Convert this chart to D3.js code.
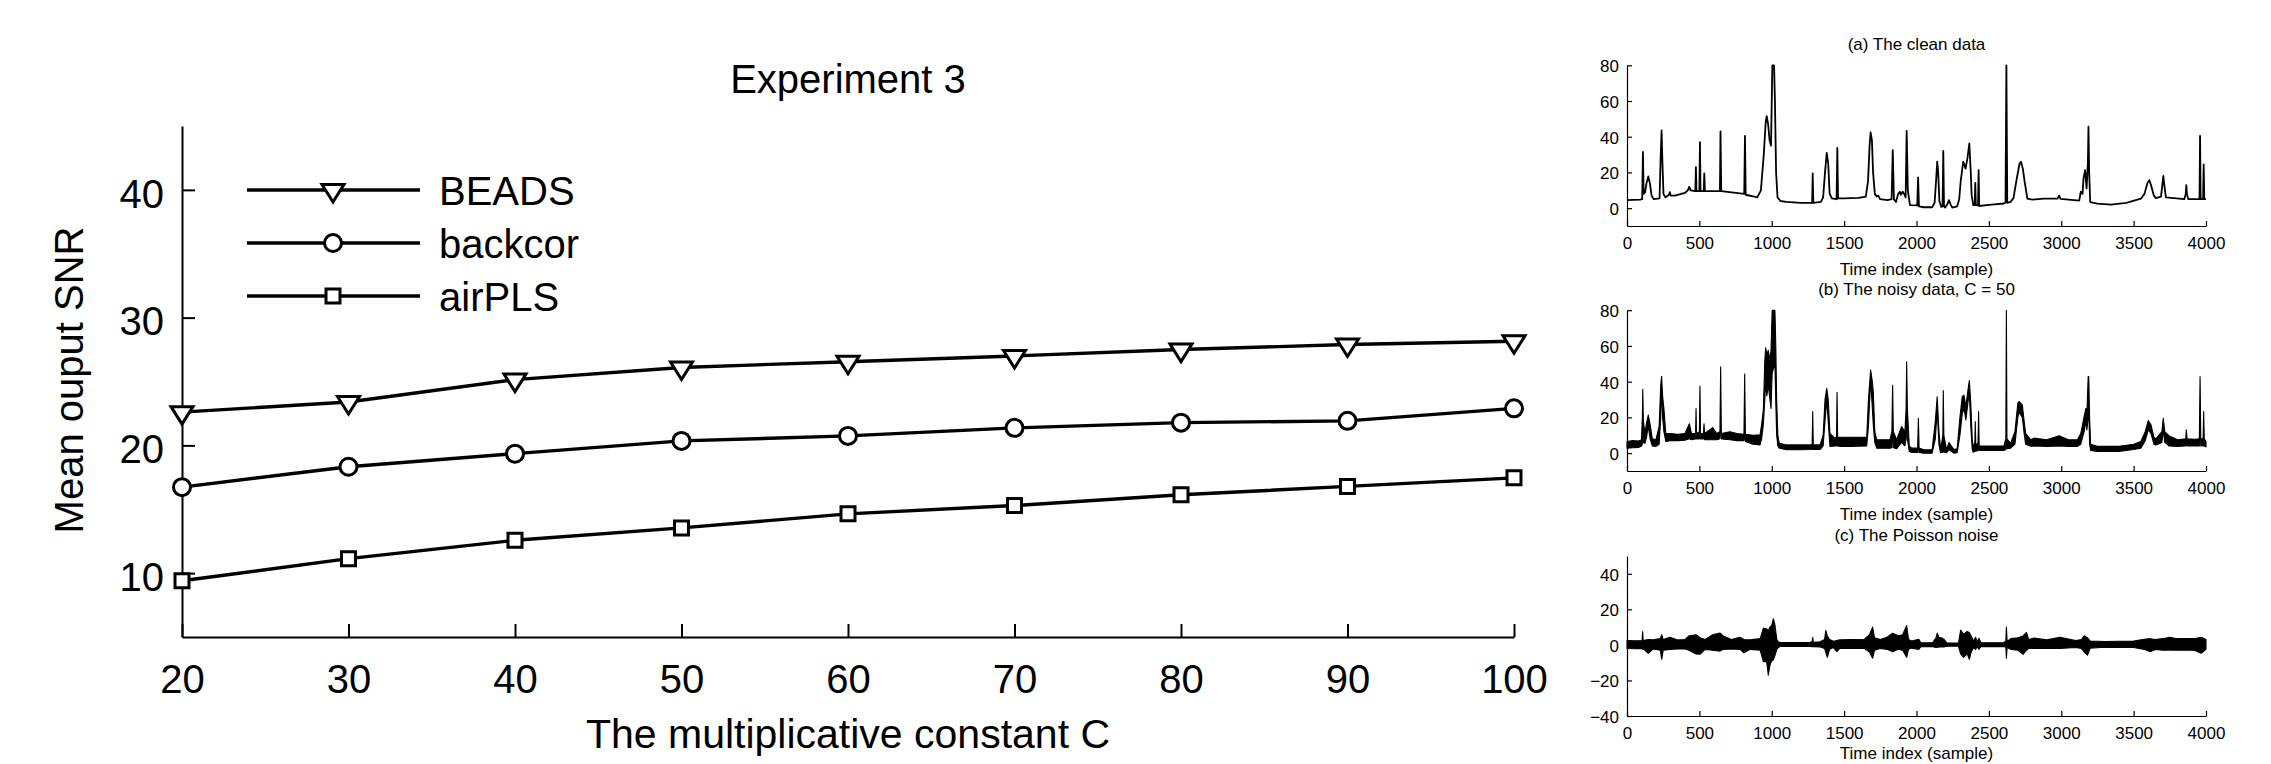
<!DOCTYPE html>
<html>
<head>
<meta charset="utf-8">
<script src="https://cdn.jsdelivr.net/npm/d3@7"></script>
<style>
body { margin: 0; background: #fff; }
svg { display: block; font-family: "Liberation Sans", Arial, Helvetica, sans-serif; }
</style>
</head>
<body>
<svg id="drawing_region"></svg>
<script>
// main chart data (Experiment 3)
const cValues = [20, 30, 40, 50, 60, 70, 80, 90, 100];
const beads   = [22.6, 23.4, 25.15, 26.1, 26.55, 27.0, 27.5, 27.9, 28.15];
const backcor = [16.73, 18.33, 19.35, 20.35, 20.74, 21.37, 21.78, 21.92, 22.9];
const airpls  = [9.4, 11.13, 12.57, 13.54, 14.64, 15.29, 16.13, 16.79, 17.46];
const seriesNames = ['BEADS', 'backcor', 'airPLS'];
const snrTicks = [10, 20, 30, 40];

// right panels: tick labels
const sampleTicks = [0, 500, 1000, 1500, 2000, 2500, 3000, 3500, 4000];
const dataTicks = [0, 20, 40, 60, 80];
const noiseTicks = [-40, -20, 0, 20, 40];
const panelTitles = ['(a) The clean data', '(b) The noisy data, C = 50', '(c) The Poisson noise'];

// (a) clean data, [sample, value]
const cleanSignal = [
  [0,4.5],[90,4.8],[105,5],[110,31.5],[115,8],[125,9],[135,14],[147,17.8],[158,14],[170,7],[185,5],
  [225,5.5],[233,30],[239,43.5],[245,25],[252,8],[265,6],[290,7.5],[296,9],[302,7],[330,7],[400,8.5],
  [420,10],[430,12],[440,10],[472,9.5],[476,23],[480,9.5],[500,9.5],[504,37],[508,9.5],[530,9.5],
  [534,19.4],[538,9.5],[642,9.5],[646,43],[651,9.5],[810,8],[815,40.4],[820,7.5],[880,6.5],[900,6],
  [925,10],[945,30],[958,48],[965,51.5],[975,47],[985,38],[995,35],[1000,60],[1004,80],[1016,80],
  [1022,60],[1030,20],[1040,6],[1060,4],[1100,3.5],[1200,3],[1279,3],[1283,19.4],[1287,3],[1340,3.5],
  [1355,6],[1368,20],[1380,31],[1390,25],[1400,8],[1415,5.5],[1448,5],[1453,33.8],[1458,5.5],[1500,5.5],
  [1600,5.8],[1650,6.5],[1665,15],[1676,35],[1683,42.4],[1692,38],[1700,20],[1712,8],[1725,6.5],[1736,7],
  [1748,5],[1800,4.5],[1828,5],[1836,32.5],[1844,5],[1858,3.4],[1874,8],[1885,9.2],[1892,7.5],[1905,9.2],
  [1914,8],[1925,6],[1932,43.3],[1940,10],[1955,1.7],[2005,1.5],[2011,17.2],[2017,1],[2050,0.5],[2108,0.5],
  [2125,3],[2135,15],[2143,26],[2150,20],[2158,4],[2171,0.7],[2180,1],[2185,32],[2190,1],[2198,0.3],
  [2212,2],[2224,4.5],[2236,2],[2247,0.3],[2281,1],[2295,5],[2305,14.8],[2323,26],[2339,22.2],[2352,28],
  [2365,36.2],[2375,20],[2381,7.3],[2392,1.7],[2402,1.7],[2406,14.2],[2410,1.7],[2425,1.5],[2429,21.3],
  [2433,1.2],[2500,1.8],[2604,2.6],[2615,3],[2621,80],[2627,3],[2650,3.5],[2670,5.6],[2692,16.3],
  [2712,25],[2722,26],[2735,22],[2747,14.8],[2766,5.3],[2800,4.8],[2880,5.3],[2975,5.3],[2985,7],
  [2995,5.2],[3124,4.2],[3135,9.2],[3147,8],[3154,16.8],[3165,21.3],[3175,11],[3184,25],[3188,45.6],
  [3193,20],[3200,3.4],[3250,2.5],[3343,2],[3450,3],[3550,5.3],[3575,8],[3595,14],[3608,15.7],[3620,13],
  [3640,7],[3654,5.6],[3689,6.5],[3697,12],[3705,18],[3712,13],[3723,6],[3850,5],[3860,8],[3864,12.9],
  [3868,8],[3878,5],[3955,5],[3959,40.5],[3963,5],[3980,5],[3984,24.5],[3988,5],[4000,5]
];

// (b) noisy data, [sample, lower edge, upper edge] of the black trace
const noisyBand = [
  [0,2.8,6.5],[40,3,7],[80,3.2,6.8],[100,4,7.5],[106,5,20],[109,20,35.7],[113,6,18],[124,5.5,11],
  [135,9,17],[147,14.9,21.3],[160,8,16],[175,4,8],[200,3.8,7.5],[222,5,15],[233,20,38],[239,37,43],
  [246,20,32],[255,12,25],[268,6.5,11],[300,7,11],[350,7,10.5],[400,7.2,11],[431,8,16.4],[445,7.5,11],
  [474,8,11],[477,12,25],[480,8,11],[500,8,12],[504,14,37.6],[508,8,11],[528,8,11],[532,9,16.4],
  [536,7.5,11],[592,7.5,14.3],[620,7.5,11],[642,8,12],[647,20,48.3],[652,8,11],[711,7.5,12],[760,7,11],
  [808,7,10.5],[813,12,44.3],[818,6.5,10.5],[870,5,10],[919,4.6,10.2],[930,8,16],[942,16,24.2],
  [952,30,52],[958,40,59],[966,32,55],[976,38,57.6],[988,29.8,52],[995,25,57.6],[1003,45,80],
  [1022,50,80],[1028,28,60],[1034,10,29.8],[1042,4,10],[1052,2.8,5.5],[1103,1.9,4.6],[1200,1.9,4.6],
  [1279,2,4.6],[1283,8,23.3],[1287,2,4.6],[1334,2,4.6],[1355,4,10],[1368,18,30],[1380,29.8,36.3],
  [1390,18,30],[1402,3.8,11],[1440,4,8],[1448,4,10],[1451,14,34.1],[1455,4,9],[1472,3.8,8.9],
  [1550,3.8,8.9],[1656,4,9],[1668,15,30],[1683,40.9,46.5],[1695,25,40],[1702,15,33.5],[1712,6,12],
  [1725,2.8,7.5],[1817,2.8,7.5],[1830,3,12],[1835,20,38],[1840,3,12],[1863,2.5,7.5],[1897,6,14.9],
  [1920,4,12],[1928,8,25],[1932,30,51.1],[1937,8,25],[1950,1,4],[1966,0.4,2.8],[2008,0.4,2.8],
  [2013,6,19.5],[2018,0.4,2.8],[2051,0,1.9],[2108,0,1.9],[2130,8,18],[2143,24,31.6],[2155,5,12],
  [2166,0.3,2],[2182,0.5,10],[2185,18,35],[2189,0.5,10],[2208,0.3,2],[2224,2,5.9],[2258,0,2],
  [2281,0.3,2.5],[2300,10,20],[2316,22,31.6],[2328,25,32.5],[2341,18.6,26],[2355,28,35],[2365,34,40.6],
  [2375,15,28],[2385,2,8],[2392,0.5,3],[2403,1,6],[2406,8,17.7],[2410,1,4],[2425,1.5,6],[2429,10,23.3],
  [2433,1.5,4],[2443,1.5,4],[2604,1.5,4],[2617,2,8],[2621,50,80],[2625,2.5,8],[2650,2.8,5.5],
  [2680,5,12],[2700,20,28],[2708,23,28.9],[2731,20,27],[2745,10,17],[2754,5,11],[2789,3.8,7.5],
  [2812,4,8.4],[2900,3.8,7.5],[2985,4,9.7],[3050,3.8,7.5],[3112,3.8,7.5],[3135,5,11],[3158,12,20.5],
  [3170,18,25],[3177,13,22],[3186,20,42.8],[3190,25,42.8],[3196,5,20],[3203,1.5,5],[3250,1,3.8],
  [3400,1,3.8],[3500,2,5],[3550,2.8,6.5],[3580,7,12],[3601,13,18.2],[3620,11,15.8],[3640,5,9],
  [3654,4.5,8],[3695,6,12],[3705,13,19.5],[3715,6,12],[3746,4,9.6],[3804,3.8,7.5],[3860,4,8],
  [3864,7,13],[3869,4,8],[3919,4,7.8],[3954,4,8],[3959,20,42.8],[3964,4,8],[3980,4,8],[3984,10,23.3],
  [3988,4,8],[4000,3.5,6.5]
];

// (c) Poisson noise, [sample, lower edge, upper edge]
const poissonBand = [
  [0,-2,2.5],[60,-2.2,2.3],[104,-2,2.5],[108,-2.5,7.5],[112,-2.2,2.5],[147,-4.7,3],[180,-2.3,2.8],
  [230,-3,3.5],[240,-8.1,5.7],[250,-3,3],[297,-2.5,4.3],[350,-2.3,2.8],[400,-2.3,3],[428,-3,5.1],
  [477,-5.1,5.7],[504,-5.3,4],[540,-2.5,3],[592,-3,5.7],[643,-3.5,6.6],[666,-2.5,5],[720,-2.3,3],
  [781,-2.5,4.3],[808,-4.5,3],[850,-2.5,2.8],[920,-3,3.5],[942,-9.4,9.4],[965,-9.4,9],[976,-17,8],
  [988,-11.3,10],[1000,-9,11],[1011,-8.5,14.7],[1022,-6,11.3],[1035,-2.5,3],[1045,-1.5,1.8],
  [1057,-0.9,1.3],[1150,-0.9,1.3],[1264,-0.9,1.3],[1280,-1,2],[1283,-1,4.3],[1287,-1,1.5],
  [1334,-1.2,1.8],[1365,-2,3],[1373,-4,8.1],[1384,-7,5],[1400,-2.5,3],[1426,-1.5,2],[1450,-3.8,2.5],
  [1470,-2,2.8],[1550,-2,3],[1640,-2,3.2],[1675,-4,5.7],[1697,-7.5,10],[1710,-3,4],[1750,-2,3],
  [1796,-2.5,4.3],[1835,-3.8,6.6],[1874,-2.5,5.1],[1904,-3,5.7],[1932,-7,10.9],[1945,-2.5,3],
  [1966,-1.8,2.2],[2016,-2.5,3.2],[2030,-1,1.2],[2110,-1,1.2],[2135,-1.5,4],[2143,-1.5,6.6],
  [2155,-1.2,4.3],[2178,-1.2,3.8],[2189,-1.2,3.2],[2210,-0.8,1],[2290,-0.8,1],[2305,-5,8.3],
  [2325,-7,6],[2350,-5,7.5],[2365,-8.1,7],[2378,-4,5],[2395,-1.5,2],[2408,-2.5,4.3],[2420,-1,1.5],
  [2431,-2.5,3.8],[2445,-1,1.2],[2600,-1,1.2],[2617,-1.2,2],[2621,-7.5,10],[2626,-1.5,2],
  [2651,-2.5,3.5],[2700,-3,4],[2736,-5.3,5],[2760,-3,7],[2775,-2,3],[2812,-2,3.8],[2900,-1.9,2.8],
  [2990,-2,4.3],[3100,-1.5,2.5],[3140,-2,3],[3158,-4,5.1],[3181,-5.8,4],[3200,-1.8,2.2],
  [3300,-1.3,1.9],[3500,-1.5,2.2],[3573,-2.5,3.2],[3615,-3.8,3.5],[3650,-2.6,3],[3700,-3,3.5],
  [3750,-2.8,4.3],[3800,-3,3.5],[3850,-3,3.5],[3920,-3,3.5],[3966,-4.7,4.3],[4000,-2.5,3]
];

const W = 2271, H = 764;
const svg = d3.select('#drawing_region').attr('width', W).attr('height', H);

// ---------- main chart ----------
const m = { left: 182, right: 1514, top: 126, bottom: 637 };
const xscale = d3.scaleLinear().domain([20, 100]).range([m.left, m.right]);
const yscale = d3.scaleLinear().domain([5, 45]).range([m.bottom, m.top]);

const xaxis_group = svg.append('g')
    .attr('transform', `translate(0, ${m.bottom})`)
    .call(d3.axisBottom(xscale).tickValues(cValues).tickSizeInner(-13).tickSizeOuter(0).tickFormat(d3.format('d')));
xaxis_group.selectAll('text').attr('y', 56).attr('dy', null);

const yaxis_group = svg.append('g')
    .attr('transform', `translate(${m.left}, 0)`)
    .call(d3.axisLeft(yscale).tickValues(snrTicks).tickSizeInner(-13).tickSizeOuter(0).tickPadding(18));
yaxis_group.selectAll('text').attr('dy', '0.43em');

[xaxis_group, yaxis_group].forEach(g => {
    g.attr('font-family', null).attr('font-size', null);
    g.selectAll('path, line').attr('stroke', '#000').attr('stroke-width', 2);
    g.selectAll('text').style('font-size', '40px').attr('fill', '#000');
});

// marker shapes
const markerPath = {
    BEADS: 'M-11,-5.5L11,-5.5L0,12Z',
    airPLS: 'M-7,-7H7V7H-7Z'
};
function drawMarker(g, name, cx, cy) {
    if (name === 'backcor') {
        g.append('circle').attr('cx', cx).attr('cy', cy).attr('r', 8.5)
            .attr('fill', '#fff').attr('stroke', '#000').attr('stroke-width', 3);
    } else {
        g.append('path').attr('d', markerPath[name])
            .attr('transform', `translate(${cx},${cy})`)
            .attr('fill', '#fff').attr('stroke', '#000').attr('stroke-width', 3)
            .attr('stroke-linejoin', 'miter');
    }
}

const seriesValues = [beads, backcor, airpls];
const line = d3.line().x((d, i) => xscale(cValues[i])).y(d => yscale(d));
const chart = svg.append('g');
seriesValues.forEach((vals, k) => {
    chart.append('path').attr('d', line(vals))
        .attr('fill', 'none').attr('stroke', '#000').attr('stroke-width', 3.4);
    vals.forEach((v, i) => drawMarker(chart, seriesNames[k], xscale(cValues[i]), yscale(v)));
});

// legend
const legend = svg.append('g');
seriesNames.forEach((name, k) => {
    const ly = 190 + k * 53;
    legend.append('line').attr('x1', 247).attr('x2', 420).attr('y1', ly).attr('y2', ly)
        .attr('stroke', '#000').attr('stroke-width', 3.4);
    drawMarker(legend, name, 333, ly);
    legend.append('text').attr('x', 439).attr('y', ly).attr('dy', '0.38em')
        .style('font-size', '40px').text(name);
});

svg.append('text').attr('x', (m.left + m.right) / 2).attr('y', 93)
    .attr('text-anchor', 'middle').style('font-size', '40px').text('Experiment 3');
svg.append('text').attr('x', (m.left + m.right) / 2).attr('y', 748)
    .attr('text-anchor', 'middle').style('font-size', '41px').text('The multiplicative constant C');
svg.append('text').attr('transform', 'rotate(-90)').attr('x', -380).attr('y', 83)
    .attr('text-anchor', 'middle').style('font-size', '40px').text('Mean ouput SNR');

// ---------- right panels ----------
const sx = d3.scaleLinear().domain([0, 4000]).range([1627, 2206]);
const panels = [
    { top: 65.3, bottom: 226, domain: [-10, 80], ticks: dataTicks, xlabelGap: 48.5 },
    { top: 310.2, bottom: 471, domain: [-10, 80], ticks: dataTicks, xlabelGap: 48.5 },
    { top: 556, bottom: 716, domain: [-40, 50], ticks: noiseTicks, xlabelGap: 43 }
];

panels.forEach((p, k) => {
    const py = d3.scaleLinear().domain(p.domain).range([p.bottom, p.top]);
    p.yscale = py;
    const g = svg.append('g');

    const gx = g.append('g').attr('transform', `translate(0, ${p.bottom})`)
        .call(d3.axisBottom(sx).tickValues(sampleTicks).tickSizeInner(-5).tickSizeOuter(0).tickFormat(d3.format('d')));
    gx.selectAll('text').attr('y', 23).attr('dy', null);
    const gy = g.append('g').attr('transform', `translate(${sx(0)}, 0)`)
        .call(d3.axisLeft(py).tickValues(p.ticks).tickSizeInner(-5).tickSizeOuter(0).tickPadding(8));
    gy.selectAll('text').attr('dy', '0.38em');
    [gx, gy].forEach(a => {
        a.attr('font-family', null).attr('font-size', null);
        a.selectAll('path, line').attr('stroke', '#000').attr('stroke-width', 1.2);
        a.selectAll('text').style('font-size', '17px').attr('fill', '#000');
    });

    g.append('text').attr('x', (sx(0) + sx(4000)) / 2).attr('y', p.top - 15)
        .attr('text-anchor', 'middle').style('font-size', '17px').text(panelTitles[k]);
    g.append('text').attr('x', (sx(0) + sx(4000)) / 2).attr('y', p.bottom + p.xlabelGap)
        .attr('text-anchor', 'middle').style('font-size', '17px').text('Time index (sample)');
});

const cleanLine = d3.line().x(d => sx(d[0])).y(d => panels[0].yscale(d[1]));
svg.append('path').attr('d', cleanLine(cleanSignal))
    .attr('fill', 'none').attr('stroke', '#000').attr('stroke-width', 1.8).attr('stroke-linejoin', 'round');

[[noisyBand, panels[1]], [poissonBand, panels[2]]].forEach(([band, p]) => {
    const area = d3.area().x(d => sx(d[0])).y0(d => p.yscale(d[1])).y1(d => p.yscale(d[2]));
    svg.append('path').attr('d', area(band))
        .attr('fill', '#000').attr('stroke', '#000').attr('stroke-width', 1.1).attr('stroke-linejoin', 'round');
});
</script>
</body>
</html>
